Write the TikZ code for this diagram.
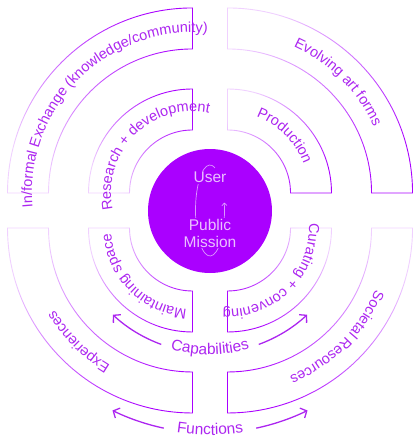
\documentclass[tikz,border=0pt]{standalone}
\usepackage{fontspec}
\setmainfont{Liberation Sans}
\usetikzlibrary{arrows.meta,decorations.text,fadings}

\definecolor{vio}{RGB}{170,0,255}
\definecolor{vtxt}{RGB}{172,38,240}
\definecolor{vpale}{RGB}{234,192,255}

\newcommand{\bandfont}{\fontsize{14.5}{16}\selectfont\color{vtxt}}
\newcommand{\capfont}{\fontsize{15.5}{17}\selectfont\color{vtxt}}

\tikzfading[name=fade tl,top color=transparent!0,bottom color=transparent!82,shading angle=-45]
\tikzfading[name=fade tr,top color=transparent!0,bottom color=transparent!82,shading angle=-135]
\tikzfading[name=fade bl,top color=transparent!0,bottom color=transparent!82,shading angle=-135]
\tikzfading[name=fade br,top color=transparent!0,bottom color=transparent!82,shading angle=135]

\tikzset{
  band/.style={draw=vio,line width=0.9pt},
  flow/.style={draw=vtxt,line width=1.3pt,-{Straight Barb[length=5pt,width=11pt]}},
  ctext/.style={text=vpale,fill=vio,inner sep=1pt,align=center,
                font=\fontsize{15.5}{17}\selectfont},
  loopline/.style={draw=white,draw opacity=0.6,line width=0.7pt,
                   -{Straight Barb[length=2.5pt,width=5pt]}}
}

\begin{document}
\begin{tikzpicture}[x=1pt,y=1pt]
\useasboundingbox (-210,-229.5) rectangle (204,210.5);

\foreach \qx/\qy/\a/\f in {-17.5/17.5/90/tl, 17.5/17.5/0/tr, -17.5/-17.5/180/bl, 17.5/-17.5/270/br}
{\draw[band,path fading=fade \f,shift={(\qx,\qy)}] (\a:63) arc (\a:\a+90:63) -- (\a+90:104) arc (\a+90:\a:104) -- cycle;
 \draw[band,path fading=fade \f,shift={(\qx,\qy)}] (\a:144) arc (\a:\a+90:144) -- (\a+90:185) arc (\a+90:\a:185) -- cycle;}

\path[shift={(-17.5,17.5)},decorate,decoration={text along path,text align=center,
    text={|\bandfont|In/formal Exchange (knowledge/community)}}] (205:160.5) arc (205:65:160.5);
\path[shift={(-17.5,17.5)},decorate,decoration={text along path,text align=center,
    text={|\bandfont|Research + development}}] (210:81.5) arc (210:60:81.5);
\path[shift={(17.5,17.5)},decorate,decoration={text along path,text align=center,
    text={|\bandfont|Evolving art forms}}] (115:160.5) arc (115:-25:160.5);
\path[shift={(17.5,17.5)},decorate,decoration={text along path,text align=center,
    text={|\bandfont|Production}}] (120:81.5) arc (120:-30:81.5);
\path[shift={(-17.5,-17.5)},decorate,decoration={text along path,text align=center,
    text={|\bandfont|Experiences}}] (295:160.5) arc (295:155:160.5);
\path[shift={(-17.5,-17.5)},decorate,decoration={text along path,text align=center,
    text={|\bandfont|Maintaining space}}] (300:81.5) arc (300:150:81.5);
\path[shift={(17.5,-17.5)},decorate,decoration={text along path,text align=center,
    text={|\bandfont|Societal Resources}}] (25:160.5) arc (25:-115:160.5);
\path[shift={(17.5,-17.5)},decorate,decoration={text along path,text align=center,
    text={|\bandfont|Curating + convening}}] (30:81.5) arc (30:-120:81.5);

\coordinate (capa-l) at (250:142.5);
\coordinate (capa-r) at (290:142.5);
\coordinate (func-l) at (258:222.5);
\coordinate (func-r) at (282:222.5);
\draw[flow] (capa-l) arc (250:227:142.5);
\draw[flow] (capa-r) arc (290:313:142.5);
\draw[flow] (func-l) arc (258:244:222.5);
\draw[flow] (func-r) arc (282:296:222.5);
\path[decorate,decoration={text along path,text align=center,
    text={|\capfont|Capabilities}}] (230:144) arc (230:310:144);
\path[decorate,decoration={text along path,text align=center,
    text={|\capfont|Functions}}] (240:224.5) arc (240:300:224.5);

\node[circle,fill=vio,minimum size=124pt,inner sep=0pt] (core) at (0,-0.5) {};
\draw[loopline] (70:14.5 and 45.5) arc (70:370:14.5 and 45.5);
\node[ctext] (user) at (0,32.8) {User};
\node[ctext] (mission) at (0,-22.5) {Public\\Mission};

\end{tikzpicture}
\end{document}
